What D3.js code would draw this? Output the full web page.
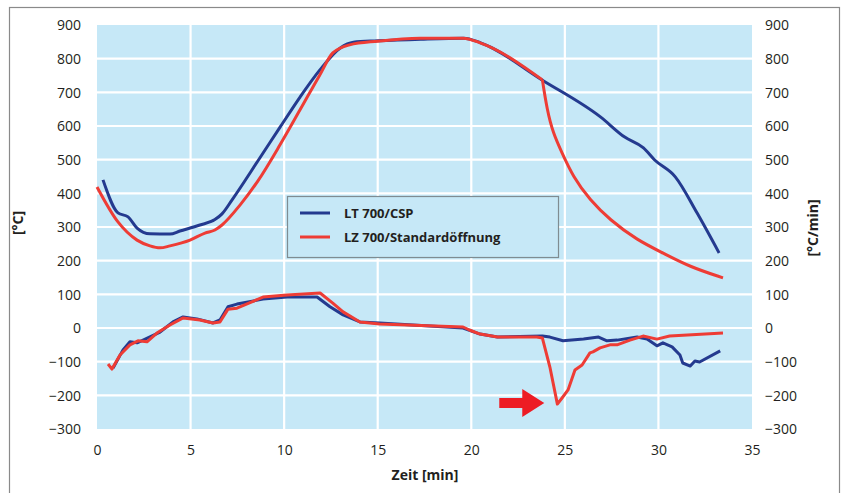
<!DOCTYPE html>
<html><head><meta charset="utf-8">
<script src="https://cdn.jsdelivr.net/npm/d3@7"></script>
<style>body{margin:0;background:#fff}svg{display:block}</style>
</head><body>
<script>
// ---- data ----
const seriesNames = ["LT 700/CSP", "LZ 700/Standardöffnung"];
const xTicks = [0,5,10,15,20,25,30,35];
const yTicks = [-300,-200,-100,0,100,200,300,400,500,600,700,800,900];
// temperature curves [time min, °C]
const blueTemp = [[0.32,440],[1.12,342],[1.66,330],[2.14,297],[2.83,280],[3.9,279],[4.43,288],[5.5,306],[6.3,322],[6.68,339],[7.21,380],[8.7,505],[9.8,598],[10.85,686],[11.9,766],[13.0,832],[13.7,849],[15.0,853],[17.3,858],[19.6,861],[20.5,847],[23.8,736],[26.9,627],[28.2,567],[29.2,535],[29.8,499],[30.9,449],[32.06,342],[33.24,223]];
const redTemp = [[0,419],[1.12,315],[2.14,261],[2.83,244],[3.37,238],[3.9,244],[4.97,261],[5.77,282],[6.3,291],[6.68,306],[7.64,365],[8.6,437],[9.78,544],[10.85,648],[11.9,751],[12.6,817],[13.5,841],[15.0,852],[17.26,861],[19.56,861],[20.47,847],[23.8,737],[24.05,648],[24.37,579],[24.85,520],[25.44,449],[26.34,380],[27.41,321],[28.86,261],[30.24,223],[31.7,181],[33.45,149]];
// rate curves [time min, °C/min]
const blueRate = [[0.86,-119],[1.39,-65],[1.76,-41],[2.14,-44],[2.46,-36],[3.37,-12],[4.06,18],[4.6,33],[5.34,27],[6.2,15],[6.57,24],[7.0,63],[7.48,71],[8.87,86],[10.15,92],[11.76,92],[12.45,63],[13.15,39],[14.05,18],[15.1,15],[19.56,0],[20.47,-18],[21.4,-27],[23.8,-24],[24.2,-27],[24.9,-38],[26.0,-33],[26.8,-27],[27.25,-38],[27.8,-36],[28.86,-27],[29.39,-33],[29.92,-53],[30.24,-44],[30.73,-56],[31.15,-80],[31.3,-104],[31.7,-113],[31.95,-98],[32.2,-101],[33.3,-68]];
const redRate = [[0.59,-107],[0.8,-122],[1.23,-80],[1.76,-50],[2.19,-38],[2.67,-41],[3.2,-15],[3.9,9],[4.6,30],[5.5,24],[6.2,15],[6.57,18],[7.0,56],[7.48,59],[8.87,92],[10.15,98],[11.92,104],[12.6,74],[13.15,48],[14.05,18],[15.1,12],[19.56,3],[19.9,-6],[20.47,-18],[21.4,-27],[23.5,-27],[23.8,-30],[24.2,-116],[24.6,-226],[24.85,-208],[25.17,-184],[25.54,-125],[25.92,-110],[26.34,-74],[26.5,-71],[26.88,-59],[27.41,-50],[27.79,-50],[28.48,-36],[29.18,-24],[29.92,-33],[30.6,-24],[33.45,-15]];
const arrowPoint = [23.9, -223];

// ---- layout ----
const W = 848, H = 493;
const m = {l:97, r:752, t:25, b:429};
const blue = "#243a8f", red = "#ee3c35", bg = "#c6e8f7";
const font = "'Open Sans', 'Noto Sans', sans-serif";

const svg = d3.select("body").append("svg").attr("width", W).attr("height", H)
  .style("font-family", font);

svg.append("rect").attr("x",9.5).attr("y",7.5).attr("width",830).attr("height",495)
  .attr("fill","#fff").attr("stroke","#8a8a8a").attr("stroke-width",1.2);

const x = d3.scaleLinear().domain([0,35]).range([m.l, m.r]);
const y = d3.scaleLinear().domain([-300,900]).range([m.b, m.t]);

svg.append("rect").attr("x",m.l).attr("y",m.t).attr("width",m.r-m.l).attr("height",m.b-m.t).attr("fill",bg);

// grid
svg.append("g").selectAll("line").data(yTicks.filter(d=>d>-300 && d<900)).join("line")
  .attr("x1",m.l).attr("x2",m.r).attr("y1",d=>y(d)).attr("y2",d=>y(d))
  .attr("stroke","#fff").attr("stroke-width",2.2);
svg.append("g").selectAll("line").data(xTicks.filter(d=>d>0 && d<35)).join("line")
  .attr("y1",m.t).attr("y2",m.b).attr("x1",d=>x(d)).attr("x2",d=>x(d))
  .attr("stroke","#fff").attr("stroke-width",2.2);

// axes
const txtCol = "#231f20";
const left = svg.append("g").attr("transform",`translate(${m.l},0)`)
  .call(d3.axisLeft(y).tickValues(yTicks).tickSize(0).tickPadding(16));
const right = svg.append("g").attr("transform",`translate(${m.r},0)`)
  .call(d3.axisRight(y).tickValues(yTicks).tickSize(0).tickPadding(13));
const bottom = svg.append("g").attr("transform",`translate(0,${m.b})`)
  .call(d3.axisBottom(x).tickValues(xTicks).tickSize(0).tickPadding(16));
[left,right,bottom].forEach(g=>{
  g.select(".domain").remove();
  g.selectAll("text").attr("font-family",font).attr("font-size",14).attr("fill",txtCol);
});
right.selectAll("text").attr("dy","0.35em");
left.selectAll("text").attr("dy","0.35em");

svg.append("text").attr("transform","translate(23,223) rotate(-90)").attr("text-anchor","middle")
  .attr("font-weight","bold").attr("font-size",14).attr("fill",txtCol).text("[°C]");
svg.append("text").attr("transform","translate(818,228) rotate(-90)").attr("text-anchor","middle")
  .attr("font-weight","bold").attr("font-size",14).attr("fill",txtCol).text("[°C/min]");
svg.append("text").attr("x",425).attr("y",480).attr("text-anchor","middle")
  .attr("font-weight","bold").attr("font-size",14).attr("fill",txtCol).text("Zeit [min]");

// lines
const line = d3.line().x(d=>x(d[0])).y(d=>y(d[1])).curve(d3.curveMonotoneX);
const lineL = d3.line().x(d=>x(d[0])).y(d=>y(d[1]));
const lg = svg.append("g").attr("fill","none").attr("stroke-width",3).attr("stroke-linejoin","round");
lg.append("path").attr("d",line(blueTemp)).attr("stroke",blue);
lg.append("path").attr("d",lineL(blueRate)).attr("stroke",blue);
lg.append("path").attr("d",line(redTemp.slice(0,22))).attr("stroke",red);
lg.append("path").attr("d",d3.line().x(d=>x(d[0])).y(d=>y(d[1])).curve(d3.curveBasis)(redTemp.slice(21))).attr("stroke",red);
lg.append("path").attr("d",lineL(redRate)).attr("stroke",red);

// arrow
const ax = x(arrowPoint[0]), ay = y(arrowPoint[1]);
svg.append("path").attr("fill","#ed1c24")
  .attr("d",`M${ax-45},${ay-5} L${ax-22},${ay-5} L${ax-22},${ay-14} L${ax},${ay} L${ax-22},${ay+14} L${ax-22},${ay+5} L${ax-45},${ay+5} Z`);

// legend
const leg = svg.append("g");
leg.append("rect").attr("x",287.5).attr("y",196.5).attr("width",271).attr("height",61)
  .attr("fill",bg).attr("stroke","#7f8c92").attr("stroke-width",1.2);
[blue, red].forEach((c,i)=>{
  const yy = 213 + i*24;
  leg.append("line").attr("x1",300).attr("x2",330).attr("y1",yy).attr("y2",yy).attr("stroke",c).attr("stroke-width",3);
  leg.append("text").attr("x",344).attr("y",yy).attr("dy","0.35em").attr("font-weight","bold")
    .attr("font-size",13).attr("fill",txtCol).text(seriesNames[i]);
});
</script>
</body></html>
